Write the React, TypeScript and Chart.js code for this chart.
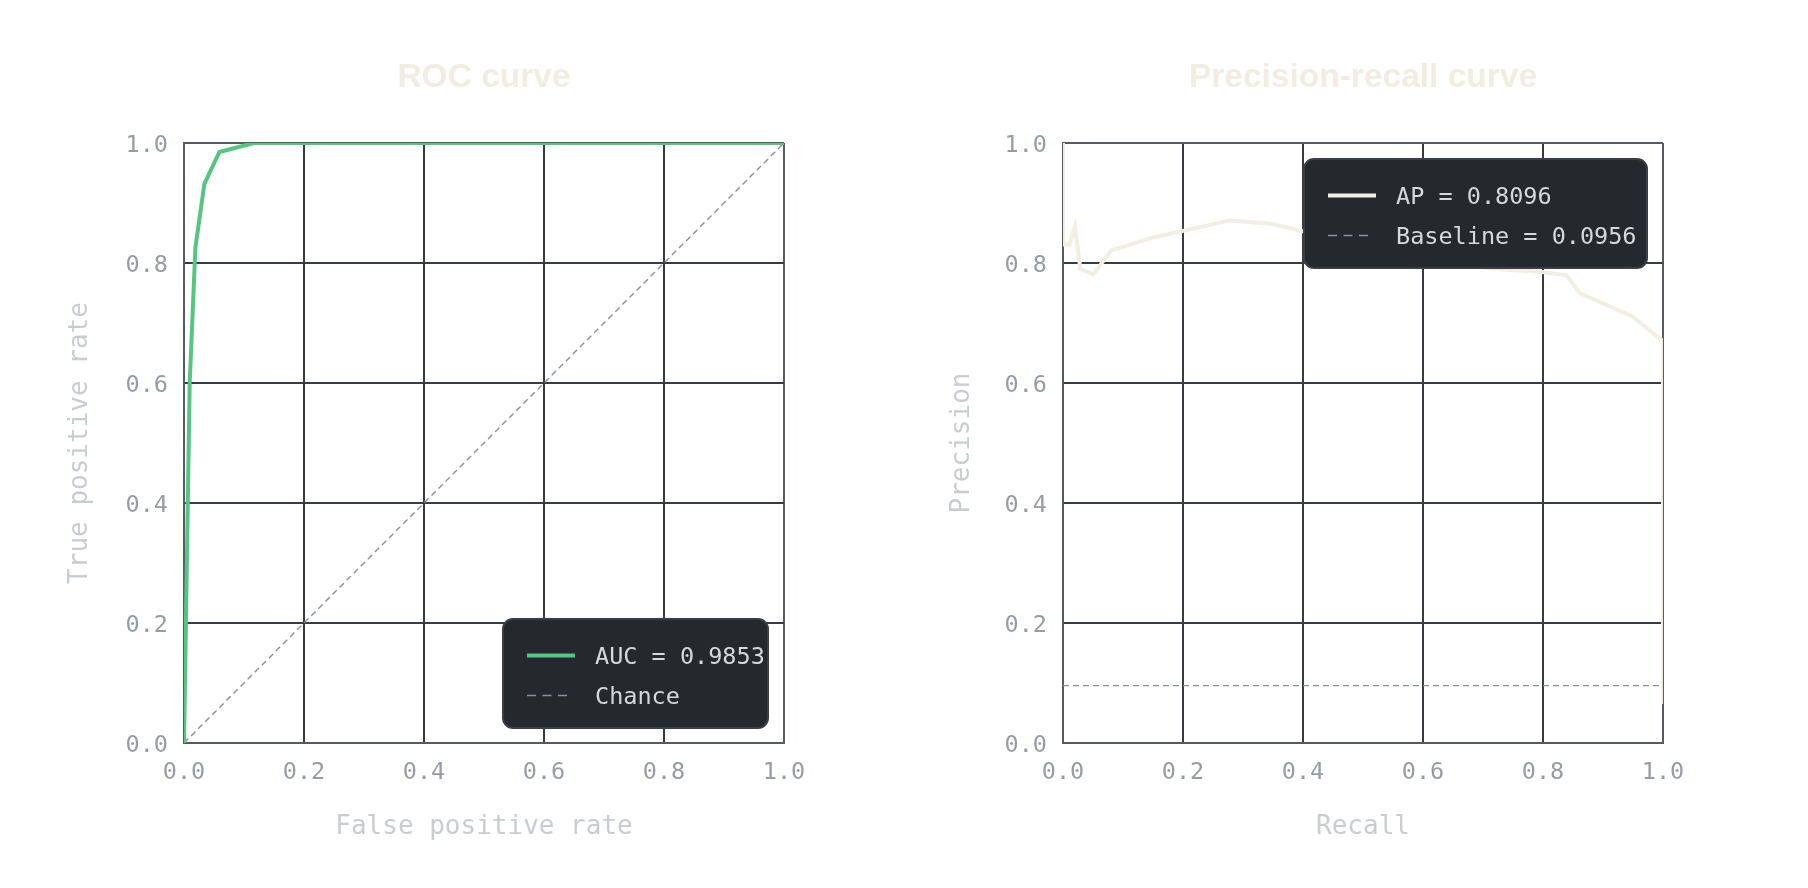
import { useEffect, useRef } from "react";
import { Chart, registerables } from "chart.js";
import type { Plugin } from "chart.js";

Chart.register(...registerables);

// ROC curve (false positive rate vs true positive rate)
const rocFpr = [0, 0.0095, 0.019, 0.034, 0.059, 0.117, 1.0];
const rocTpr = [0, 0.6, 0.826, 0.932, 0.985, 1.0, 1.0];
const chanceX = [0, 1];
const chanceY = [0, 1];

// Precision-recall curve
const prRecall = [
  0, 0, 0.011, 0.02, 0.029, 0.0505, 0.0805, 0.152, 0.279, 0.349, 0.399, 0.45,
  0.5, 0.55, 0.6, 0.65, 0.711, 0.799, 0.839, 0.861, 0.949, 1.0, 1.0,
];
const prPrecision = [
  1.0, 0.831, 0.831, 0.861, 0.79, 0.781, 0.821, 0.843, 0.871, 0.865, 0.853,
  0.845, 0.835, 0.825, 0.815, 0.803, 0.791, 0.785, 0.7795, 0.75, 0.711, 0.67,
  0.065,
];
const baselineX = [0, 1];
const baselineY = [0.0956, 0.0956];

const axisTicks = [0, 0.2, 0.4, 0.6, 0.8, 1.0];
const rocLabels = ["AUC = 0.9853", "Chance"];
const prLabels = ["AP = 0.8096", "Baseline = 0.0956"];

const MONO = "'DejaVu Sans Mono', 'Liberation Mono', monospace";
const GRID = "#383b40";
const BORDER = "#565a61";

const toPoints = (xs: number[], ys: number[]) => xs.map((x, i) => ({ x, y: ys[i] }));

// legend drawn inside the plot area, in a dark rounded box
const insetLegend: Plugin<"line"> = {
  id: "insetLegend",
  afterDraw(chart, _args, opts: any) {
    const { ctx, chartArea } = chart;
    const w = opts.width;
    const h = 109;
    const m = 16;
    const x = chartArea.right - m - w;
    const y = opts.corner === "top" ? chartArea.top + m : chartArea.bottom - 15 - h;
    ctx.save();
    ctx.beginPath();
    ctx.roundRect(x, y, w, h, 10);
    ctx.fillStyle = "#25282c";
    ctx.fill();
    ctx.lineWidth = 2;
    ctx.strokeStyle = "#3b3f45";
    ctx.stroke();
    chart.data.datasets.forEach((ds: any, i: number) => {
      const cy = y + 36.5 + i * 40;
      const dashed = ds.borderDash && ds.borderDash.length > 0;
      ctx.beginPath();
      ctx.setLineDash(dashed ? [9, 6.5] : []);
      ctx.lineWidth = dashed ? 1.5 : 4;
      ctx.strokeStyle = dashed ? "#8c9097" : ds.borderColor;
      ctx.moveTo(x + 24, cy);
      ctx.lineTo(x + 24 + (dashed ? 41 : 48), cy);
      ctx.stroke();
      ctx.setLineDash([]);
      ctx.fillStyle = "#d6d8dc";
      ctx.font = `23.5px ${MONO}`;
      ctx.textBaseline = "middle";
      ctx.textAlign = "left";
      ctx.fillText(ds.label, x + 92, cy + 2);
    });
    ctx.restore();
  },
};

function axis(title: string, isY: boolean, size: number, titlePad: number) {
  return {
    type: "linear" as const,
    min: 0,
    max: 1,
    afterBuildTicks: (s: any) => {
      s.ticks = axisTicks.map((v) => ({ value: v }));
    },
    afterFit: (s: any) => {
      if (isY) s.width = size;
      else s.height = size;
    },
    border: { color: BORDER, width: 2 },
    grid: {
      drawTicks: false,
      color: (c: any) => (c.tick && c.tick.value === 1 ? BORDER : GRID),
      lineWidth: 2,
    },
    ticks: {
      color: "#979ca4",
      padding: isY ? 16 : 16,
      labelOffset: isY ? 2.5 : 0,
      font: { family: MONO, size: 23.5 },
      callback: (v: any) => Number(v).toFixed(1),
    },
    title: {
      display: true,
      text: title,
      color: "#c9ccd1",
      font: { family: MONO, size: 26 },
      padding: isY ? { top: titlePad, bottom: 0 } : { top: 0, bottom: titlePad },
    },
  };
}

function CurveChart(props: {
  title: string;
  xTitle: string;
  yTitle: string;
  datasets: any[];
  yAxisWidth: number;
  yTitlePad: number;
  rightPad: number;
  legendWidth: number;
  legendCorner: string;
}) {
  const canvasRef = useRef<HTMLCanvasElement | null>(null);

  useEffect(() => {
    if (!canvasRef.current) return;
    const chart = new Chart(canvasRef.current, {
      type: "line",
      data: { datasets: props.datasets },
      options: {
        responsive: false,
        animation: false,
        events: [],
        layout: { padding: { left: 0, top: 0, bottom: 0, right: props.rightPad } },
        elements: { point: { radius: 0 }, line: { tension: 0 } },
        scales: {
          x: axis(props.xTitle, false, 145, 44.8),
          y: axis(props.yTitle, true, props.yAxisWidth, props.yTitlePad),
        },
        plugins: {
          legend: { display: false },
          tooltip: { enabled: false },
          title: {
            display: true,
            text: props.title,
            fullSize: false,
            color: "#f1ede2",
            font: { family: "'Liberation Sans', Arial, sans-serif", size: 33.5, weight: "bold" },
            padding: { top: 58, bottom: 44.8 },
          },
          insetLegend: { width: props.legendWidth, corner: props.legendCorner },
        } as any,
      },
      plugins: [insetLegend],
    });
    return () => chart.destroy();
  }, []);

  return <canvas ref={canvasRef} width={904} height={888} style={{ width: 904, height: 888 }} />;
}

export default function App() {
  const rocSets = [
    {
      label: rocLabels[0],
      data: toPoints(rocFpr, rocTpr),
      borderColor: "#55c681",
      borderWidth: 4,
    },
    {
      label: rocLabels[1],
      data: toPoints(chanceX, chanceY),
      borderColor: "#8a8e95",
      borderWidth: 1.4,
      borderDash: [6, 4],
    },
  ];
  const prSets = [
    {
      label: prLabels[0],
      data: toPoints(prRecall, prPrecision),
      borderColor: "#f2eee2",
      borderWidth: 4,
    },
    {
      label: prLabels[1],
      data: toPoints(baselineX, baselineY),
      borderColor: "#8a8e95",
      borderWidth: 1.4,
      borderDash: [6, 4],
    },
  ];

  return (
    <div style={{ position: "fixed", top: 0, left: 0, width: 1808, height: 888, background: "#fff" }}>
      <div style={{ position: "absolute", left: 0, top: 0 }}>
        <CurveChart
          title="ROC curve"
          xTitle="False positive rate"
          yTitle="True positive rate"
          datasets={rocSets}
          yAxisWidth={184}
          yTitlePad={65}
          rightPad={120}
          legendWidth={265}
          legendCorner="bottom"
        />
      </div>
      <div style={{ position: "absolute", left: 904, top: 0 }}>
        <CurveChart
          title="Precision-recall curve"
          xTitle="Recall"
          yTitle="Precision"
          datasets={prSets}
          yAxisWidth={159}
          yTitlePad={42.4}
          rightPad={145}
          legendWidth={343}
          legendCorner="top"
        />
      </div>
    </div>
  );
}
